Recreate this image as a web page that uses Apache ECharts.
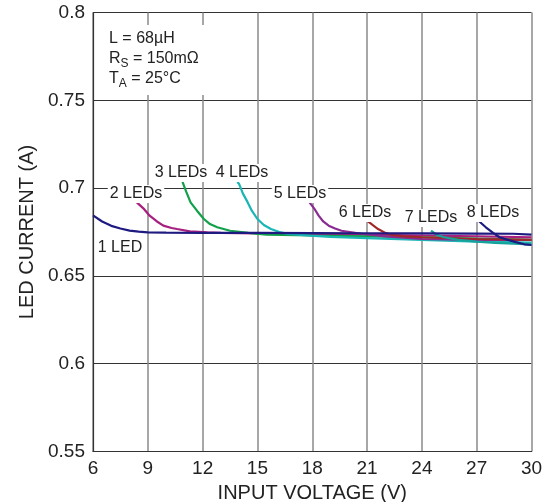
<!DOCTYPE html>
<html>
<head>
<meta charset="utf-8">
<script src="https://cdn.jsdelivr.net/npm/echarts@6/dist/echarts.min.js"></script>
<style>html,body{margin:0;padding:0;background:#fff}#c{width:553px;height:502px}</style>
</head>
<body>
<div id="c"></div>
<script>
const seriesNames = ['1 LED','2 LEDs','3 LEDs','4 LEDs','5 LEDs','6 LEDs','7 LEDs','8 LEDs'];
const xTicks = [6, 9, 12, 15, 18, 21, 24, 27, 30];
const yTicks = [0.55, 0.6, 0.65, 0.7, 0.75, 0.8];

const v1 = [6, 6.5, 7, 7.5, 8, 8.5, 9, 10, 12, 15, 18, 21, 24, 27, 29, 30];
const i1 = [0.6845, 0.681, 0.6785, 0.677, 0.6758, 0.6752, 0.6748, 0.6746, 0.6745, 0.6745, 0.6744, 0.6743, 0.6742, 0.6741, 0.674, 0.6735];
const v2 = [8.4, 8.8, 9.1, 9.5, 9.85, 10.3, 10.6, 11.3, 12.25, 13, 15, 18, 21, 24, 27, 30];
const i2 = [0.6919, 0.688, 0.6843, 0.681, 0.6786, 0.6773, 0.6767, 0.6754, 0.6748, 0.6745, 0.6742, 0.6738, 0.6735, 0.673, 0.6725, 0.672];
const v3 = [10.9, 11.1, 11.34, 11.7, 12.07, 12.4, 12.8, 13.5, 14.5, 15.5, 18, 21, 24, 27, 30];
const i3 = [0.7035, 0.698, 0.6919, 0.687, 0.6824, 0.6795, 0.6777, 0.6757, 0.6745, 0.6735, 0.673, 0.6725, 0.672, 0.6712, 0.6705];
const v4 = [13.9, 14.0, 14.2, 14.46, 14.7, 15.0, 15.35, 15.74, 16.2, 16.66, 17.9, 19, 21, 24, 27, 30];
const i4 = [0.7035, 0.7023, 0.697, 0.692, 0.687, 0.6824, 0.679, 0.6767, 0.675, 0.6739, 0.6729, 0.6722, 0.6715, 0.6705, 0.6695, 0.669];
const v5 = [17.85, 18.1, 18.35, 18.6, 18.9, 19.25, 19.6, 20.7, 22, 24, 27, 30];
const i5 = [0.6919, 0.6885, 0.6843, 0.681, 0.6786, 0.677, 0.6757, 0.674, 0.6725, 0.671, 0.6705, 0.6705];
const v6 = [21.05, 21.3, 21.6, 22.0, 22.35, 23, 24, 27, 30];
const i6 = [0.681, 0.679, 0.6767, 0.6745, 0.6733, 0.6725, 0.672, 0.671, 0.6705];
const v7 = [24.5, 24.8, 25.2, 26, 27, 28, 30];
const i7 = [0.6757, 0.6735, 0.672, 0.6705, 0.6695, 0.6688, 0.668];
const v8 = [27.1, 27.5, 27.9, 28.25, 28.7, 29.15, 29.6, 30];
const i8 = [0.6814, 0.6777, 0.6745, 0.672, 0.6705, 0.6692, 0.668, 0.6676];

const allV = [v1, v2, v3, v4, v5, v6, v7, v8];
const allI = [i1, i2, i3, i4, i5, i6, i7, i8];
const colors = ['#1f1a80', '#a8207f', '#12a04a', '#1ab5b5', '#8b2a91', '#a02828', '#17a39c', '#1c1c80'];

const font = 'Liberation Sans, Arial, sans-serif';
const chart = echarts.init(document.getElementById('c'));

const series = allV.map((vs, k) => ({
  name: seriesNames[k],
  type: 'line',
  data: vs.map((v, j) => [v, allI[k][j]]),
  showSymbol: false,
  symbol: 'none',
  lineStyle: { color: colors[k], width: 2.2 },
  itemStyle: { color: colors[k] },
  z: 3 + (k === 0 ? 8 : k),
  animation: false
}));

const lbl = (txt, x, y) => ({
  type: 'text', x: x, y: y, z: 20,
  style: { text: txt, fill: '#222', font: '16px ' + font, backgroundColor: '#fff',
           padding: [1, 2, 1, 2], textAlign: 'center', textVerticalAlign: 'middle' }
});
const richSub = {
  n: { fontSize: 16, fontFamily: font, fill: '#222', verticalAlign: 'top', lineHeight: 18 },
  s: { fontSize: 12, fontFamily: font, fill: '#222', verticalAlign: 'top', lineHeight: 18, padding: [7, 0, 0, 0] }
};

chart.setOption({
  animation: false,
  backgroundColor: '#fff',
  grid: { left: 93, top: 12.5, width: 438.5, height: 439, show: false, containLabel: false, outerBoundsMode: 'none' },
  xAxis: {
    type: 'value', min: 6, max: 30, interval: 3,
    name: 'INPUT VOLTAGE (V)', nameLocation: 'middle', nameGap: 28,
    nameTextStyle: { fontSize: 20, color: '#222', fontFamily: font },
    axisLine: { show: true, onZero: false, lineStyle: { color: '#333', width: 1.2 } },
    axisTick: { show: false },
    axisLabel: { fontSize: 19, color: '#222', fontFamily: font, margin: 8,
      formatter: v => xTicks.includes(v) ? String(v) : '' },
    splitLine: { show: true, lineStyle: { color: '#8a8a8a', width: 1.5 } }
  },
  yAxis: {
    type: 'value', min: 0.55, max: 0.8, interval: 0.05,
    name: 'LED CURRENT (A)', nameLocation: 'middle', nameGap: 54, nameRotate: 90,
    nameTextStyle: { fontSize: 20, color: '#222', fontFamily: font },
    axisLine: { show: true, lineStyle: { color: '#333', width: 1.2 } },
    axisTick: { show: false },
    axisLabel: { fontSize: 19, color: '#222', fontFamily: font, margin: 8,
      formatter: v => { const t = yTicks.find(q => Math.abs(q - v) < 1e-6); return t === undefined ? '' : String(t); } },
    splitLine: { show: true, lineStyle: { color: '#333', width: 1 } }
  },
  series: series,
  graphic: [
    { type: 'rect', shape: { x: 100, y: 25, width: 115, height: 70 }, style: { fill: '#fff' }, z: 15 },
    { type: 'text', left: 109, top: 31, z: 20,
      style: { text: 'L = 68µH', fill: '#222', font: '16px ' + font } },
    { type: 'text', left: 109, top: 51, z: 20, style: { text: '{n|R}{s|S}{n| = 150mΩ}', rich: richSub } },
    { type: 'text', left: 109, top: 71, z: 20, style: { text: '{n|T}{s|A}{n| = 25°C}', rich: richSub } },
    lbl('1 LED', 120, 248),
    lbl('2 LEDs', 136, 194),
    lbl('3 LEDs', 181, 173),
    lbl('4 LEDs', 242, 173),
    lbl('5 LEDs', 300, 194),
    lbl('6 LEDs', 365, 213),
    lbl('7 LEDs', 431, 218),
    lbl('8 LEDs', 493, 213)
  ]
});
</script>
</body>
</html>
